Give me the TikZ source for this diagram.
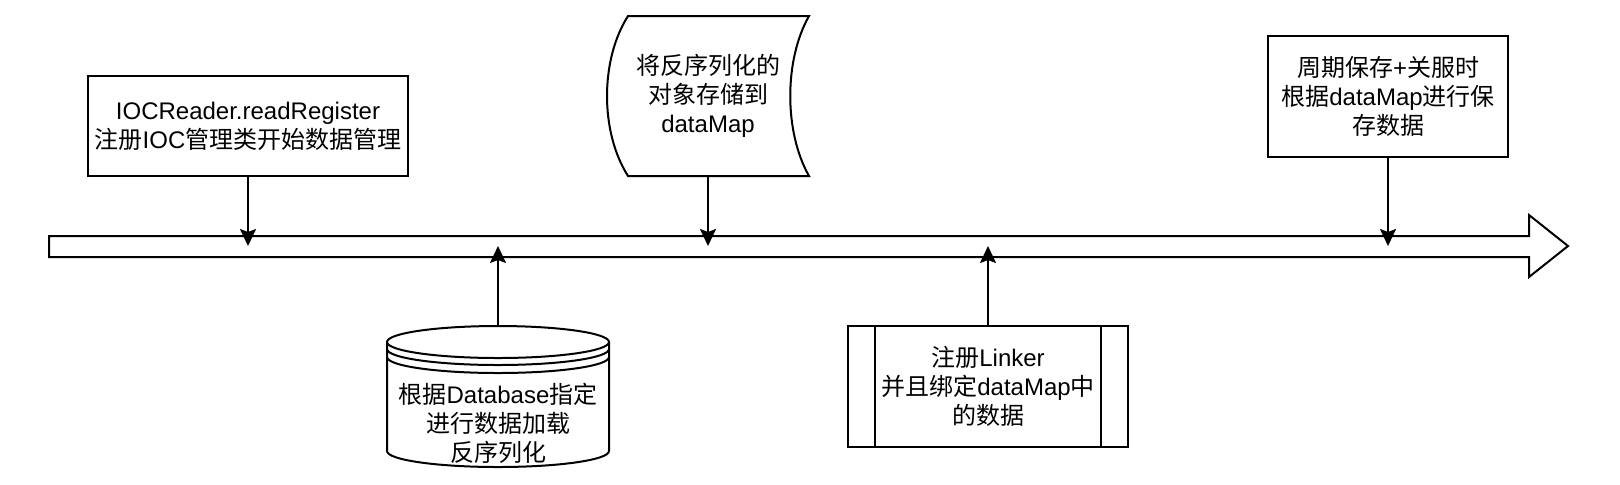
\documentclass[tikz,border=0pt]{standalone}
\usepackage{fontspec}
\setmainfont{Liberation Sans}
\newfontfamily\cjk{Noto Sans CJK SC}
\newcommand{\zh}[1]{{\cjk #1}}
\usetikzlibrary{arrows.meta}
\begin{document}
\begin{tikzpicture}[x=0.5pt,y=-0.5pt,line width=1pt,
    every node/.style={font=\fontsize{12pt}{14.5pt}\selectfont,align=center,inner sep=0pt},
    box/.style={draw,fill=white,minimum width=#1},
    flow/.style={-{Stealth[length=8.5pt,width=8pt,inset=1.5pt]}}]
        \useasboundingbox (0,0) rectangle (1620,484);
        % time line
        \draw[fill=white] (49,236) -- (1529,236) -- (1529,215) -- (1568,246)
            -- (1529,277) -- (1529,257) -- (49,257) -- cycle;
        \coordinate (axis) at (0,246);
        % top row
        \node[box=160pt,minimum height=50pt] (reg) at (248,126)
            {IOCReader.readRegister\\ \zh{注册}IOC\zh{管理类开始数据管理}};
        \draw[fill=white] (628,16) -- (809,16) .. controls (784,60) and (784,132) .. (809,176)
            -- (628,176) .. controls (600,132) and (600,60) .. (628,16) -- cycle;
        \node[minimum height=80pt] (store) at (708,96)
            {\zh{将反序列化的}\\ \zh{对象存储到}\\ dataMap};
        \node[box=120pt,minimum height=60.5pt] (save) at (1388,96.5)
            {\zh{周期保存}+\zh{关服时}\\ \zh{根据}dataMap\zh{进行保}\\ \zh{存数据}};
        % bottom row
        \draw[fill=white] (387,342) -- (387,451) arc (180:360:55.5pt and 8pt) -- (609,342);
        \draw[fill=white] (498,342) ellipse (55.5pt and 8pt);
        \draw (387,349) arc (180:360:55.5pt and 8pt);
        \draw (387,357) arc (180:360:55.5pt and 8pt);
        \coordinate (dbtop) at (498,326);
        \node (load) at (498,423)
            {\zh{根据}Database\zh{指定}\\ \zh{进行数据加载}\\ \zh{反序列化}};
        \node[box=140pt,minimum height=60.5pt] (link) at (988,386.5)
            {\zh{注册}Linker\\ \zh{并且绑定}dataMap\zh{中}\\ \zh{的数据}};
        \draw ([xshift=14pt]link.north west) -- ([xshift=14pt]link.south west);
        \draw ([xshift=-14pt]link.north east) -- ([xshift=-14pt]link.south east);
        % arrows onto the time line
        \draw[flow] (reg) -- (reg |- axis);
        \draw[flow] (store.south) -- (store.south |- axis);
        \draw[flow] (save) -- (save |- axis);
        \draw[flow] (dbtop) -- (dbtop |- axis);
        \draw[flow] (link) -- (link |- axis);
    \end{tikzpicture}
\end{document}
